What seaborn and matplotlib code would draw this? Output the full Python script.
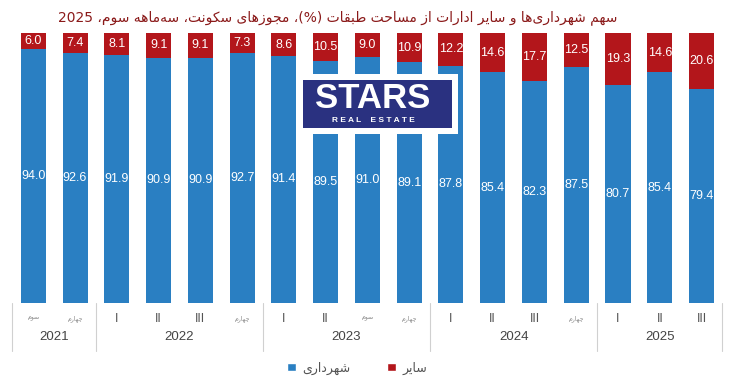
import re
import numpy as np
import pandas as pd
import matplotlib
matplotlib.use("Agg")
import matplotlib.pyplot as plt
from matplotlib.patches import Rectangle, Patch
from matplotlib.transforms import blended_transform_factory
import seaborn as sns

# ---------------- data ----------------
quarters = ['سوم', 'چهارم', 'I', 'II', 'III', 'چهارم', 'I', 'II', 'سوم', 'چهارم',
            'I', 'II', 'III', 'چهارم', 'I', 'II', 'III']
years = ['2021', '2022', '2023', '2024', '2025']
year_sizes = [2, 4, 4, 4, 3]
municipal = [94.0, 92.6, 91.9, 90.9, 90.9, 92.7, 91.4, 89.5, 91.0, 89.1,
             87.8, 85.4, 82.3, 87.5, 80.7, 85.4, 79.4]
other = [6.0, 7.4, 8.1, 9.1, 9.1, 7.3, 8.6, 10.5, 9.0, 10.9,
         12.2, 14.6, 17.7, 12.5, 19.3, 14.6, 20.6]
series_names = ['شهرداری', 'سایر']
title = 'سهم شهرداری\u200cها و سایر ادارات از مساحت طبقات (%)، مجوزهای سکونت، سه\u200cماهه سوم، 2025'

# ---------------- Persian shaping ----------------
FORMS = {
    'ا': (0xFE8D, 0xFE8E, None, None), 'آ': (0xFE81, 0xFE82, None, None),
    'د': (0xFEA9, 0xFEAA, None, None), 'ذ': (0xFEAB, 0xFEAC, None, None),
    'ر': (0xFEAD, 0xFEAE, None, None), 'ز': (0xFEAF, 0xFEB0, None, None),
    'ژ': (0xFB8A, 0xFB8B, None, None), 'و': (0xFEED, 0xFEEE, None, None),
    'ب': (0xFE8F, 0xFE90, 0xFE91, 0xFE92), 'پ': (0xFB56, 0xFB57, 0xFB58, 0xFB59),
    'ت': (0xFE95, 0xFE96, 0xFE97, 0xFE98), 'ث': (0xFE99, 0xFE9A, 0xFE9B, 0xFE9C),
    'ج': (0xFE9D, 0xFE9E, 0xFE9F, 0xFEA0), 'چ': (0xFB7A, 0xFB7B, 0xFB7C, 0xFB7D),
    'ح': (0xFEA1, 0xFEA2, 0xFEA3, 0xFEA4), 'خ': (0xFEA5, 0xFEA6, 0xFEA7, 0xFEA8),
    'س': (0xFEB1, 0xFEB2, 0xFEB3, 0xFEB4), 'ش': (0xFEB5, 0xFEB6, 0xFEB7, 0xFEB8),
    'ص': (0xFEB9, 0xFEBA, 0xFEBB, 0xFEBC), 'ض': (0xFEBD, 0xFEBE, 0xFEBF, 0xFEC0),
    'ط': (0xFEC1, 0xFEC2, 0xFEC3, 0xFEC4), 'ظ': (0xFEC5, 0xFEC6, 0xFEC7, 0xFEC8),
    'ع': (0xFEC9, 0xFECA, 0xFECB, 0xFECC), 'غ': (0xFECD, 0xFECE, 0xFECF, 0xFED0),
    'ف': (0xFED1, 0xFED2, 0xFED3, 0xFED4), 'ق': (0xFED5, 0xFED6, 0xFED7, 0xFED8),
    'ک': (0xFB8E, 0xFB8F, 0xFB90, 0xFB91), 'گ': (0xFB92, 0xFB93, 0xFB94, 0xFB95),
    'ل': (0xFEDD, 0xFEDE, 0xFEDF, 0xFEE0), 'م': (0xFEE1, 0xFEE2, 0xFEE3, 0xFEE4),
    'ن': (0xFEE5, 0xFEE6, 0xFEE7, 0xFEE8), 'ه': (0xFEE9, 0xFEEA, 0xFEEB, 0xFEEC),
    'ی': (0xFBFC, 0xFBFD, 0xFBFE, 0xFBFF),
}


def shape(s):
    out = []
    for i, c in enumerate(s):
        if c not in FORMS:
            out.append(c)
            continue
        iso, fin, ini, med = FORMS[c]
        prev = s[i - 1] if i > 0 else None
        nxt = s[i + 1] if i + 1 < len(s) else None
        jp = prev in FORMS and FORMS[prev][2] is not None
        jn = ini is not None and nxt in FORMS
        if jp and jn:
            f = med
        elif jp:
            f = fin
        elif jn:
            f = ini
        else:
            f = iso
        out.append(chr(f))
    return ''.join(out).replace('\u200c', '')


def rtl(s):
    s = shape(s)
    tokens = re.findall(r'[0-9A-Za-z.]+|[^0-9A-Za-z.]+', s)
    mirror = {'(': ')', ')': '('}
    res = []
    for t in reversed(tokens):
        if re.match(r'[0-9A-Za-z.]', t):
            res.append(t)
        else:
            res.append(''.join(mirror.get(ch, ch) for ch in reversed(t)))
    return ''.join(res)


# ---------------- figure ----------------
W, H = 735, 391
BLUE = '#2A7FC2'
RED = '#B3161B'


def fx(px):
    return px / W


def fy(py):
    return 1 - py / H


sns.set_style('white')
plt.rcParams['font.family'] = ['DejaVu Sans']

fig = plt.figure(figsize=(W / 100, H / 100), dpi=100)
ax = fig.add_axes([fx(12.4), fy(302.7), 710 / W, 269.7 / H])

n = len(municipal)
df = pd.DataFrame({
    'pos': [str(i) for i in range(n)],
    'municipal': municipal,
    'other': other,
})
df['total'] = df['municipal'] + df['other']
order = list(df['pos'])

sns.barplot(data=df, x='pos', y='total', order=order, color=RED, width=0.6,
            linewidth=0, saturation=1, ax=ax)
sns.barplot(data=df, x='pos', y='municipal', order=order, color=BLUE, width=0.6,
            linewidth=0, saturation=1, ax=ax)

ax.set_xlim(-0.5, n - 0.5)
ax.set_ylim(0, 100)
ax.set_xlabel('')
ax.set_ylabel('')
ax.set_xticks([])
ax.set_yticks([])
for sp in ax.spines.values():
    sp.set_visible(False)

# value labels
for i in range(n):
    ax.text(i, municipal[i] / 2, f'{municipal[i]:.1f}', ha='center', va='center',
            color='white', fontsize=9, family='Liberation Sans')
    ax.text(i, municipal[i] + other[i] / 2, f'{other[i]:.1f}', ha='center', va='center',
            color='white', fontsize=9, family='Liberation Sans')

# category axis (two levels)
trans = blended_transform_factory(ax.transData, ax.transAxes)
for i, q in enumerate(quarters):
    if q.isascii():
        ax.text(i, -0.06, q, transform=trans, ha='center', va='center',
                fontsize=9, color='#555555', family='Liberation Sans')
    else:
        ax.text(i, -0.06, rtl(q), transform=trans, ha='center', va='center',
                fontsize=4.5, color='#888888')

start = 0
bounds = [-0.5]
for yr, size in zip(years, year_sizes):
    center = start + (size - 1) / 2
    ax.text(center, -0.128, yr, transform=trans, ha='center', va='center',
            fontsize=9.5, color='#444444', family='Liberation Sans')
    start += size
    bounds.append(start - 0.5)
for b in bounds:
    ax.plot([b, b], [0, -0.18], transform=trans, color='#d0d0d0', lw=0.8,
            clip_on=False)

# title
fig.text(fx(338), fy(18), rtl(title), ha='center', va='center', fontsize=10,
         color='#8B1A1A')

# legend
handles = [Patch(facecolor=BLUE), Patch(facecolor=RED)]
fig.legend(handles, [rtl(s) for s in series_names], loc='center',
           bbox_to_anchor=(fx(357), fy(368)), ncol=2, frameon=False,
           handlelength=0.7, handleheight=0.7, handletextpad=0.5,
           columnspacing=3.0, fontsize=9, labelcolor='#555555')

# logo
fig.add_artist(Rectangle((fx(297), fy(134)), 161 / W, 60 / H,
                         transform=fig.transFigure, facecolor='white',
                         edgecolor='none', zorder=5))
fig.add_artist(Rectangle((fx(303), fy(128)), 149 / W, 48 / H,
                         transform=fig.transFigure, facecolor='#2A3180',
                         edgecolor='none', zorder=6))
fig.text(fx(373), fy(99), 'STARS', ha='center', va='center', fontsize=25,
         fontweight='bold', color='white', family='Liberation Sans', zorder=7)
fig.text(fx(373), fy(120), 'R E A L    E S T A T E', ha='center', va='center',
         fontsize=6, fontweight='bold', color='white', family='Liberation Sans',
         zorder=7)

fig.savefig('out.png', dpi=100, facecolor='white')
